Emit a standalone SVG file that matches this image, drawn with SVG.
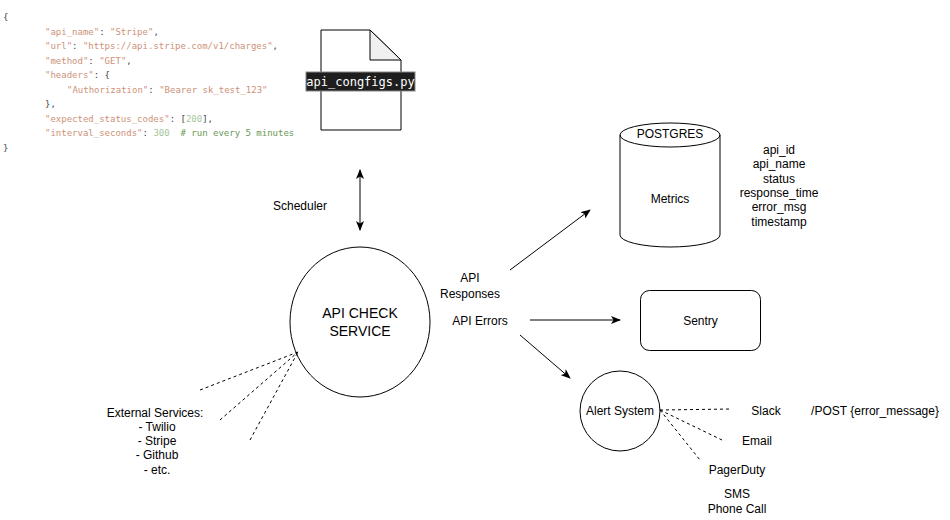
<svg xmlns="http://www.w3.org/2000/svg" width="950" height="520" viewBox="0 0 950 520">
<style>
.t{font-family:"Liberation Sans",Arial,Helvetica,sans-serif;font-size:12px;fill:#000;text-anchor:middle;dominant-baseline:central}
.big{font-size:14px}
.code{font-family:"DejaVu Sans Mono","Liberation Mono",monospace;font-size:9px;fill:#444}
.s{fill:#ce9178}
.n{fill:#a5c79a}
.c{fill:#6a9955}
.ln{stroke:#000;stroke-width:1;fill:none}
.dash{stroke:#000;stroke-width:1;fill:none;stroke-dasharray:3 3}
.shape{stroke:#000;stroke-width:1;fill:#fff}
</style>
<defs>
<marker id="arr" viewBox="0 0 10 8" refX="9" refY="4" markerWidth="10" markerHeight="8" markerUnits="userSpaceOnUse" orient="auto-start-reverse">
<path d="M0,0 L10,4 L0,8 L2.5,4 z" fill="#000"/>
</marker>
</defs>
<rect width="950" height="520" fill="#fff"/>

<g id="code">
<text class="code" x="3" y="20">{</text>
<text class="code" x="45" y="34.5"><tspan class="s">"api_name"</tspan>: <tspan class="s">"Stripe"</tspan>,</text>
<text class="code" x="45" y="49"><tspan class="s">"url"</tspan>: <tspan class="s">"https://api.stripe.com/v1/charges"</tspan>,</text>
<text class="code" x="45" y="63.5"><tspan class="s">"method"</tspan>: <tspan class="s">"GET"</tspan>,</text>
<text class="code" x="45" y="78"><tspan class="s">"headers"</tspan>: {</text>
<text class="code" x="67" y="92.5"><tspan class="s">"Authorization"</tspan>: <tspan class="s">"Bearer sk_test_123"</tspan></text>
<text class="code" x="45" y="107">},</text>
<text class="code" x="45" y="121.5"><tspan class="s">"expected_status_codes"</tspan>: [<tspan class="n">200</tspan>],</text>
<text class="code" x="45" y="136" xml:space="preserve"><tspan class="s">"interval_seconds"</tspan>: <tspan class="n">300</tspan>  <tspan class="c"># run every 5 minutes</tspan></text>
<text class="code" x="3" y="150.5">}</text>
</g>

<g id="file">
<path class="shape" d="M321,30 H370 L401,60 V130 H321 Z"/>
<path d="M370,30 V60 H401 Z" fill="#f0f0f0" stroke="#000" stroke-width="1"/>
<rect x="306" y="72" width="109" height="19" fill="#1e1e1e" stroke="#888" stroke-width="1"/>
<text x="360.5" y="81.5" style="font-family:'DejaVu Sans Mono','Liberation Mono',monospace;font-size:12px;fill:#fff;text-anchor:middle;dominant-baseline:central">api_congfigs.py</text>
</g>

<g id="api-check-service">
<ellipse class="shape" cx="360" cy="322" rx="70" ry="75"/>
<text class="t big" x="360" y="313">API CHECK</text>
<text class="t big" x="360" y="331">SERVICE</text>
</g>

<g id="postgres">
<path class="shape" d="M620,135 A50,12 0 0,1 720,135 V235 A50,12 0 0,1 620,235 Z"/>
<path class="ln" d="M620,135 A50,12 0 0,0 720,135"/>
<text class="t" x="670" y="134">POSTGRES</text>
<text class="t" x="670" y="199">Metrics</text>
</g>

<g id="fields">
<text class="t" x="779" y="150">api_id</text>
<text class="t" x="779" y="164">api_name</text>
<text class="t" x="779" y="178.5">status</text>
<text class="t" x="779" y="193">response_time</text>
<text class="t" x="779" y="207">error_msg</text>
<text class="t" x="779" y="221.5">timestamp</text>
</g>

<g id="sentry">
<rect class="shape" x="640.5" y="290.5" width="120" height="60" rx="9"/>
<text class="t" x="700.5" y="321">Sentry</text>
</g>

<g id="alert-system">
<circle class="shape" cx="620" cy="411" r="40"/>
<text class="t" x="620" y="411">Alert System</text>
</g>

<g id="labels">
<text class="t" x="300" y="206">Scheduler</text>
<text class="t" x="470" y="278">API</text>
<text class="t" x="470" y="294">Responses</text>
<text class="t" x="480" y="321">API Errors</text>
<text class="t" x="155" y="413">External Services:</text>
<text class="t" x="157" y="427">- Twilio</text>
<text class="t" x="157" y="441">- Stripe</text>
<text class="t" x="157" y="455">- Github</text>
<text class="t" x="157" y="470">- etc.</text>
<text class="t" x="766" y="411">Slack</text>
<text class="t" x="875" y="411">/POST {error_message}</text>
<text class="t" x="757" y="441">Email</text>
<text class="t" x="737" y="470">PagerDuty</text>
<text class="t" x="737" y="494">SMS</text>
<text class="t" x="737" y="509">Phone Call</text>
</g>

<g id="connectors">
<line class="ln" x1="360" y1="170" x2="360" y2="230" marker-start="url(#arr)" marker-end="url(#arr)"/>
<line class="ln" x1="510" y1="270" x2="590" y2="210" marker-end="url(#arr)"/>
<line class="ln" x1="530" y1="320" x2="620" y2="320" marker-end="url(#arr)"/>
<line class="ln" x1="520" y1="335" x2="570" y2="378" marker-end="url(#arr)"/>
<line class="dash" x1="200" y1="390" x2="298" y2="352"/>
<line class="dash" x1="220" y1="420" x2="298" y2="352"/>
<line class="dash" x1="250" y1="440" x2="298" y2="352"/>
<line class="dash" x1="660" y1="410" x2="732" y2="409"/>
<line class="dash" x1="660" y1="410" x2="722" y2="440"/>
<line class="dash" x1="660" y1="410" x2="700" y2="460"/>
</g>
</svg>
